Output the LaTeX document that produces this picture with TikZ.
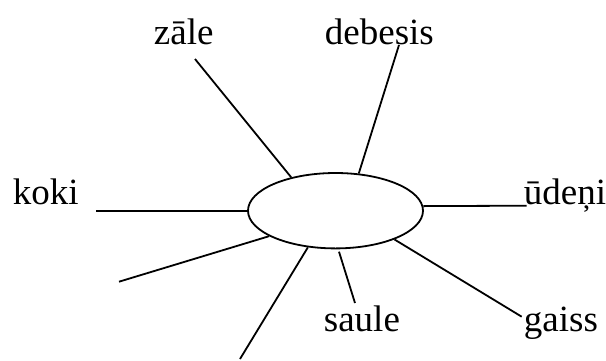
\documentclass[tikz,border=0pt]{standalone}
\usepackage{fontspec}
\setmainfont{Liberation Serif}
\usetikzlibrary{shapes.geometric}

\begin{document}
\begin{tikzpicture}[x=1pt, y=-1pt,
    line width=1.8pt,
    word/.style={anchor=base west, inner sep=0pt, font=\fontsize{37}{40}\selectfont}]
\useasboundingbox (0,0) rectangle (606,360);

\node[draw, ellipse, inner sep=0pt, minimum width=175pt, minimum height=75.4pt] (hub) at (335.5,210.7) {};

% words
\node[word] (zale) at (153,44) {zāle};
\node[word] (debesis) at (324,44) {debesis};
\node[word] (koki) at (12,204) {koki};
\node[word] (udeni) at (523,204) {ūdeņi};
\node[word] (saule) at (323,331.7) {saule};
\node[word] (gaiss) at (523,331.7) {gaiss};

% free ends of the rays
\coordinate (zaleEnd) at (195,59);
\coordinate (debesisEnd) at (399,45);
\coordinate (udeniEnd) at (526.7,205.7);
\coordinate (kokiEnd) at (96,210.7);
\coordinate (leftEnd) at (119,281.7);
\coordinate (bottomEnd) at (240,359);
\coordinate (sauleTop) at (339,251.7);
\coordinate (sauleEnd) at (355,303);
\coordinate (gaissEnd) at (521.7,316.7);

\draw (hub.143) -- (zaleEnd);
\draw (hub.58) -- (debesisEnd);
\draw (hub.3.3) -- (udeniEnd);
\draw (hub.180) -- (kokiEnd);
\draw (hub.201.6) -- (leftEnd);
\draw (hub.233.6) -- (bottomEnd);
\draw (sauleTop) -- (sauleEnd);
\draw (hub.334) -- (gaissEnd);
\end{tikzpicture}
\end{document}
